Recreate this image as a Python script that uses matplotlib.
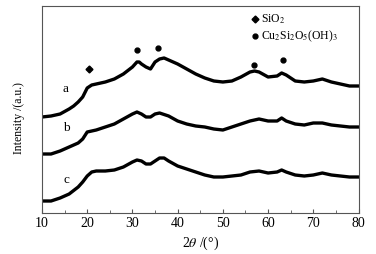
import matplotlib
matplotlib.use("Agg")
import matplotlib.pyplot as plt
from matplotlib.ticker import MultipleLocator

plt.rcParams['font.family'] = ['Liberation Serif', 'DejaVu Serif']
plt.rcParams['mathtext.fontset'] = 'stix'

# XRD 曲线数据 (2θ, 强度 a.u.)
x_a = [10, 12, 14, 16, 17, 18, 19, 20, 21, 22, 24, 26, 28, 30, 31, 31.5, 32, 33, 34, 35, 36, 37, 38,
       40, 42, 44, 46, 48, 50, 52, 54, 56, 57, 58, 60, 62, 63, 64, 66, 68, 70, 72, 74, 76, 78, 80]
y_a = [96, 97, 99, 104, 107, 111, 116, 125, 128, 129, 131, 134, 139, 146, 151, 151, 149, 146, 144, 151,
       154, 155, 153, 149, 144, 139, 135, 132, 131, 132, 136, 141, 142, 141, 136, 137, 140, 138, 132,
       131, 132, 134, 131, 129, 127, 127]

x_b = [10, 12, 14, 16, 18, 19, 20, 22, 24, 26, 28, 30, 31, 32, 33, 34, 35, 36, 38, 40, 42, 44, 46,
       48, 50, 52, 54, 56, 58, 60, 62, 63, 64, 66, 68, 70, 72, 74, 76, 78, 80]
y_b = [59, 59, 62, 66, 70, 74, 81, 83, 86, 89, 94, 99, 101, 99, 96, 96, 99, 100, 97, 92, 89, 87, 86,
       84, 83, 86, 89, 92, 94, 92, 92, 95, 92, 89, 88, 90, 90, 88, 87, 86, 86]

x_c = [10, 12, 14, 16, 18, 19, 20, 21, 22, 24, 26, 28, 30, 31, 32, 33, 34, 35, 36, 37, 38, 40, 42,
       44, 46, 48, 50, 52, 54, 56, 58, 60, 62, 63, 64, 66, 68, 70, 72, 74, 76, 78, 80]
y_c = [12, 12, 15, 19, 26, 31, 37, 41, 42, 42, 43, 46, 51, 53, 52, 49, 49, 52, 55, 55, 52, 47, 44,
       41, 38, 36, 36, 37, 38, 41, 42, 40, 41, 43, 41, 38, 37, 38, 40, 38, 37, 36, 36]

curve_names = ['a', 'b', 'c']
name_pos = [(15.3, 124), (15.3, 85), (15.3, 33)]

# 衍射峰标记
sio2_peaks = [(20.5, 144)]
cu_peaks = [(31, 163), (35.6, 165), (56.8, 148), (63.3, 153)]

fig = plt.figure(figsize=(3.76, 2.54), dpi=100)
ax = fig.add_axes([0.1117, 0.1614, 0.8418, 0.815])

for xs, ys in [(x_a, y_a), (x_b, y_b), (x_c, y_c)]:
    ax.plot(xs, ys, color='black', lw=2.4, solid_joinstyle='round')

for name, (px, py) in zip(curve_names, name_pos):
    ax.text(px, py, name, fontsize=9.5, ha='center', va='center')

for px, py in sio2_peaks:
    ax.plot(px, py, marker='D', ms=3.5, color='black', ls='none')
for px, py in cu_peaks:
    ax.plot(px, py, marker='o', ms=3.5, color='black', ls='none')

# 图例
ax.plot(57.1, 194, marker='D', ms=3.5, color='black')
ax.text(58.5, 194, 'SiO$_2$', fontsize=8.5, va='center')
ax.plot(57.1, 177, marker='o', ms=3.5, color='black')
ax.text(58.5, 177, 'Cu$_2$Si$_2$O$_5$(OH)$_3$', fontsize=8.5, va='center')

ax.set_xlim(10, 80)
ax.set_ylim(0, 207)
ax.xaxis.set_major_locator(MultipleLocator(10))
ax.xaxis.set_minor_locator(MultipleLocator(5))
ax.tick_params(axis='x', which='both', direction='in', labelsize=10, color='#555555', pad=3)
ax.tick_params(axis='x', which='major', length=3)
ax.tick_params(axis='x', which='minor', length=2)
ax.set_yticks([])
for sp in ax.spines.values():
    sp.set_color('#555555')
    sp.set_linewidth(0.8)

ax.set_xlabel(r'2$\it{\theta}$ /(°)', fontsize=10, labelpad=3)
ax.set_ylabel('Intensity /(a.u.)', fontsize=8.5)
ax.yaxis.set_label_coords(-0.055, 0.46)

fig.savefig('out.png', dpi=100)
plt.close(fig)
